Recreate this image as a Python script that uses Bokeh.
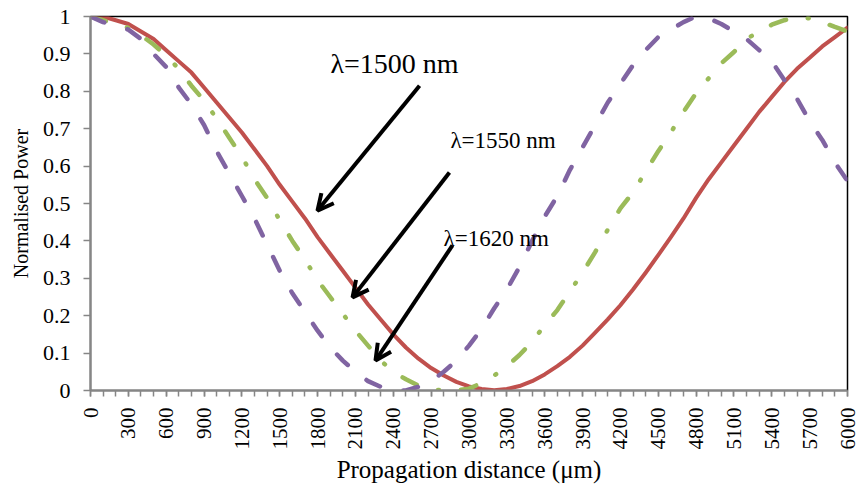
from bokeh.plotting import figure
from bokeh.models import Range1d, FixedTicker, Arrow, OpenHead, Label, CustomJSTickFormatter
from bokeh.embed import file_html
from bokeh.resources import INLINE

# ---------------- data ----------------
distance = [0, 100, 200, 300, 400, 500, 600, 700, 800, 900,
            1000, 1100, 1200, 1300, 1400, 1500, 1600, 1700, 1800, 1900,
            2000, 2100, 2200, 2300, 2400, 2500, 2600, 2700, 2800, 2900,
            3000, 3100, 3200, 3300, 3400, 3500, 3600, 3700, 3800, 3900,
            4000, 4100, 4200, 4300, 4400, 4500, 4600, 4700, 4800, 4900,
            5000, 5100, 5200, 5300, 5400, 5500, 5600, 5700, 5800, 5900, 6000]

power_1500 = [1.00, 1.00, 0.99, 0.98, 0.96, 0.94, 0.91, 0.88, 0.85, 0.81,
              0.77, 0.73, 0.69, 0.645, 0.60, 0.55, 0.505, 0.46, 0.41, 0.365,
              0.32, 0.275, 0.23, 0.19, 0.15, 0.115, 0.085, 0.06, 0.04, 0.023,
              0.011, 0.004, 0.001, 0.004, 0.012, 0.025, 0.043, 0.065, 0.09, 0.12,
              0.155, 0.19, 0.228, 0.27, 0.315, 0.362, 0.41, 0.46, 0.515, 0.565,
              0.61, 0.655, 0.70, 0.745, 0.785, 0.825, 0.86, 0.89, 0.92, 0.945, 0.97]

power_1550 = [1.00, 0.99, 0.98, 0.97, 0.95, 0.925, 0.895, 0.86, 0.815, 0.775,
              0.727, 0.676, 0.625, 0.565, 0.515, 0.455, 0.40, 0.35, 0.295, 0.25,
              0.205, 0.16, 0.12, 0.08, 0.05, 0.03, 0.013, 0.003, 0.00, 0.00,
              0.005, 0.02, 0.04, 0.065, 0.095, 0.13, 0.175, 0.215, 0.265, 0.315,
              0.37, 0.43, 0.487, 0.53, 0.585, 0.64, 0.69, 0.745, 0.795, 0.835,
              0.875, 0.905, 0.94, 0.96, 0.978, 0.99, 0.998, 0.995, 0.985, 0.972, 0.96]

power_1620 = [1.00, 0.985, 0.975, 0.965, 0.94, 0.90, 0.865, 0.81, 0.765, 0.71,
              0.64, 0.58, 0.52, 0.46, 0.39, 0.32, 0.26, 0.21, 0.16, 0.115,
              0.08, 0.05, 0.025, 0.01, 0.00, 0.00, 0.01, 0.025, 0.05, 0.08,
              0.12, 0.165, 0.22, 0.27, 0.33, 0.40, 0.465, 0.52, 0.59, 0.65,
              0.71, 0.77, 0.82, 0.87, 0.91, 0.945, 0.965, 0.985, 1.00, 0.995,
              0.98, 0.96, 0.94, 0.91, 0.88, 0.83, 0.78, 0.72, 0.67, 0.61, 0.56]

x_major_ticks = [0, 300, 600, 900, 1200, 1500, 1800, 2100, 2400, 2700, 3000,
                 3300, 3600, 3900, 4200, 4500, 4800, 5100, 5400, 5700, 6000]
x_tick_labels = ["0", "300", "600", "900", "1200", "1500", "1800", "2100", "2400", "2700", "3000",
                 "3300", "3600", "3900", "4200", "4500", "4800", "5100", "5400", "5700", "6000"]
y_ticks = [0, 0.1, 0.2, 0.3, 0.4, 0.5, 0.6, 0.7, 0.8, 0.9, 1]

x_title = "Propagation distance (\u03bcm)"
y_title = "Normalised Power"

labels_text = ["\u03bb=1500 nm", "\u03bb=1550 nm", "\u03bb=1620 nm"]

# ---------------- figure ----------------
FONT = "Liberation Serif"
AXIS_GREY = "#868686"

p = figure(width=860, height=489, output_backend="svg", toolbar_location=None,
           x_range=Range1d(0, 6000), y_range=Range1d(0, 1),
           min_border_left=90, min_border_right=13, min_border_top=16, min_border_bottom=99,
           background_fill_color="white", border_fill_color="white")

p.xgrid.visible = False
p.ygrid.visible = False
p.outline_line_color = "black"
p.outline_line_width = 1.5

# lines
p.line(distance, power_1500, line_color="#C0504D", line_width=4, line_cap="round", line_join="round")
p.line(distance, power_1550, line_color="#9BBB59", line_width=4.5, line_cap="round",
       line_join="round", line_dash="16 22 1 22")
p.line(distance, power_1620, line_color="#8064A2", line_width=4.5, line_cap="round",
       line_join="round", line_dash="15 24")

# x axis
xa = p.xaxis[0]
xa.ticker = FixedTicker(ticks=x_major_ticks, minor_ticks=distance)
xa.major_label_overrides = {t: l for t, l in zip(x_major_ticks, x_tick_labels)}
xa.major_label_orientation = 3.14159265 / 2
xa.major_label_text_font = FONT
xa.major_label_text_font_size = "21px"
xa.major_label_text_color = "black"
xa.major_label_standoff = 11
xa.axis_line_color = AXIS_GREY
xa.axis_line_width = 2
xa.major_tick_line_color = AXIS_GREY
xa.minor_tick_line_color = AXIS_GREY
xa.major_tick_line_width = 1.5
xa.minor_tick_line_width = 1.5
xa.major_tick_in = 0
xa.major_tick_out = 6
xa.minor_tick_in = 0
xa.minor_tick_out = 6
xa.axis_label = x_title
xa.axis_label_text_font = FONT
xa.axis_label_text_font_size = "25px"
xa.axis_label_text_font_style = "normal"
xa.axis_label_text_color = "black"
xa.axis_label_standoff = 3

# y axis
ya = p.yaxis[0]
ya.ticker = FixedTicker(ticks=y_ticks, minor_ticks=[])
ya.formatter = CustomJSTickFormatter(code="""
    if (Math.abs(tick) < 1e-9) return "0";
    if (Math.abs(tick - 1) < 1e-9) return "1";
    return tick.toFixed(1);
""")
ya.major_label_text_font = FONT
ya.major_label_text_font_size = "22px"
ya.major_label_text_color = "black"
ya.major_label_standoff = 13
ya.axis_line_color = AXIS_GREY
ya.axis_line_width = 2
ya.major_tick_line_color = AXIS_GREY
ya.major_tick_line_width = 1.5
ya.major_tick_in = 0
ya.major_tick_out = 7
ya.axis_label = y_title
ya.axis_label_text_font = FONT
ya.axis_label_text_font_size = "20px"
ya.axis_label_text_font_style = "normal"
ya.axis_label_text_color = "black"
ya.axis_label_standoff = 8

# annotations (positions in data units)
arrows = [
    (2608, 0.815, 1799, 0.481),
    (2845, 0.583, 2077, 0.249),
    (2869, 0.388, 2259, 0.080),
]
for xs, ys, xe, ye in arrows:
    p.add_layout(Arrow(end=OpenHead(size=16, line_width=4, line_color="black"),
                       x_start=xs, y_start=ys, x_end=xe, y_end=ye,
                       line_color="black", line_width=4))

label_pos = [(1902, 0.874, "28px"), (2853, 0.668, "23px"), (2798, 0.406, "23px")]
for (lx, ly, fs), txt in zip(label_pos, labels_text):
    p.add_layout(Label(x=lx, y=ly, text=txt, text_font=FONT, text_font_size=fs,
                       text_baseline="middle", text_align="left", text_color="black"))

open("out.html", "w").write(file_html(p, INLINE))
